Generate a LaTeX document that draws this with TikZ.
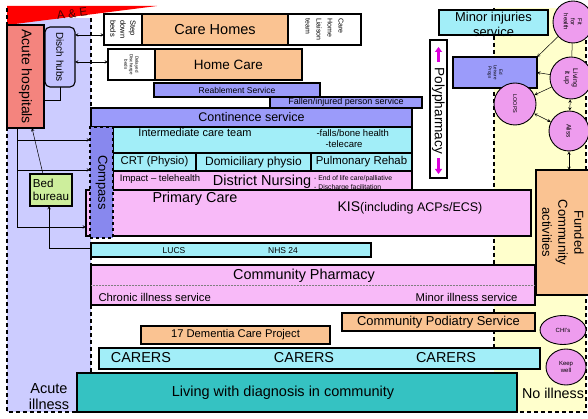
\documentclass[tikz,border=0pt]{standalone}
\usepackage{fontspec}
\setmainfont{Liberation Sans}
\usetikzlibrary{arrows.meta,shapes.geometric}
\definecolor{lav}{HTML}{CCCCFF}
\definecolor{hub}{HTML}{C2C2FF}
\definecolor{salmon}{HTML}{F4847E}
\definecolor{peach}{HTML}{FAC392}
\definecolor{blu}{HTML}{9B9BFA}
\definecolor{cyn}{HTML}{A2EEF8}
\definecolor{pnk}{HTML}{F8BAF8}
\definecolor{tealbox}{HTML}{35C2C2}
\definecolor{grn}{HTML}{CDEE9C}
\definecolor{yel}{HTML}{FFFFCC}
\definecolor{mag}{HTML}{EE9CEE}
\definecolor{magarrow}{HTML}{DD00DD}
\definecolor{cmp}{HTML}{8888EE}
\newcommand{\fs}[2]{\fontsize{#1}{#2}\selectfont}
\tikzset{
  blk/.style={draw, line width=1.1pt, anchor=north west, inner sep=0pt, outer sep=0pt},
  ball/.style={draw, line width=0.9pt, fill=mag, ellipse, inner sep=0pt},
  bord/.style={line width=1.4pt, dash pattern=on 4pt off 3pt},
  link/.style={line width=0.5pt},
}

\begin{document}
\begin{tikzpicture}[x=1pt, y=-1pt, >=stealth]
    \clip (0,0) rectangle (588,419);
    % background bands
    \fill[yel] (494,8) rectangle (586,412);
    \fill[lav] (7,18) rectangle (91,412);
    \fill[red] (7,6) -- (157,6) -- (7,25) -- cycle;
    \node[rotate=7, font=\fs{12}{14}, text=red!30!black, inner sep=0pt] (ae) at (72,13.5) {A \& E};
    \draw[bord] (7,8) -- (7,412) -- (586,412) -- (586,8);
    \draw[bord] (91,18) -- (91,412);
    \draw[bord] (494,8) -- (494,412);

    % acute side
    \node[blk, fill=salmon, minimum width=37, minimum height=103] (acute) at (7,25) {};
    \node[rotate=-90, font=\fs{14}{16}] at (acute) {Acute hospitals};
    \node[blk, fill=hub, rounded corners=5pt, minimum width=30, minimum height=60] (disch) at (45,27) {};
    \node[rotate=-90, font=\fs{10}{12}] at (disch) {Disch hubs};
    \node[blk, fill=grn, minimum width=42, minimum height=32] (bed) at (30,174) {};
    \node[font=\fs{11.6}{13}, align=left] at (bed) {Bed\\bureau};
    \node[font=\fs{14.5}{16}, align=center] (acuteill) at (49,397) {Acute\\illness};

    % beds and homes
    \node[blk, fill=white, minimum width=38, minimum height=31] (stepdown) at (104,14) {};
    \node[rotate=-90, font=\fs{7.5}{10}, align=left] at (stepdown) {Step\\down\\beds};
    \node[blk, fill=peach, minimum width=146, minimum height=31, font=\fs{14.5}{16}] (carehomes) at (142,14) {Care Homes};
    \node[blk, fill=white, minimum width=73, minimum height=31] (liaison) at (288,14) {};
    \node[rotate=-90, font=\fs{7}{11}, align=left] at (liaison) {Care\\Home\\Liaison\\team};
    \node[blk, fill=white, minimum width=47, minimum height=31] (delayed) at (108,49) {};
    \node[rotate=-90, font=\fs{4.5}{5.5}, align=center] at (delayed) {Delayed\\Discharge\\beds};
    \node[blk, fill=peach, minimum width=147, minimum height=31, font=\fs{13.5}{15}] (homecare) at (155,49) {Home Care};
    \node[blk, fill=blu, minimum width=166, minimum height=14, font=\fs{8.5}{10}] (reable) at (154,83) {Reablement Service};
    \node[blk, fill=blu, minimum width=152, minimum height=11, font=\fs{9}{10}] (fallen) at (270,97) {Fallen/injured person service};
    \node[blk, fill=blu, minimum width=321, minimum height=19, font=\fs{12.5}{14}] (continence) at (91,108) {Continence service};

    % community teams
    \node[blk, fill=pnk, minimum width=445, minimum height=46] (primary) at (86,190) {};
    \node[font=\fs{14.4}{16}] (primtxt) at (195,199) {Primary Care};
    \node[font=\fs{14}{16}, inner sep=1pt] (kis) at (410,207.5) {KIS{\fs{12.5}{14}(including ACPs/ECS)}};
    \node[blk, fill=cyn, minimum width=299, minimum height=26] (inter) at (113,127) {};
    \node[font=\fs{11}{13}] (intertxt) at (195,133) {Intermediate care team};
    \node[font=\fs{9.5}{11}, anchor=west] (falls) at (313,133) {-falls/bone health};
    \node[font=\fs{9.5}{11}, anchor=west] (tele) at (322,144) {-telecare};
    \node[blk, fill=cyn, minimum width=83, minimum height=18, font=\fs{11.3}{13}] (crt) at (113,153) {CRT (Physio)};
    \node[blk, fill=cyn, minimum width=115, minimum height=18, font=\fs{12}{14}] (domic) at (196,153) {Domiciliary physio};
    \node[blk, fill=cyn, minimum width=101, minimum height=18, font=\fs{11.4}{13}] (pulm) at (311,153) {Pulmonary Rehab};
    \node[blk, fill=pnk, minimum width=299, minimum height=19] (district) at (113,171) {};
    \node[font=\fs{9.5}{11}] (impact) at (160,179) {Impact -- telehealth};
    \node[font=\fs{14.5}{16}, inner sep=1pt] (distxt) at (262,182) {District Nursing};
    \node[font=\fs{6.8}{8}, anchor=west, inner sep=0pt] (eolA) at (314,178.5) {- End of life care/palliative};
    \node[font=\fs{6.8}{8}, anchor=west, inner sep=0pt] (eolB) at (314,187.5) {- Discharge facilitation};
    \node[blk, fill=cmp, dashed, line width=1.3pt, minimum width=23, minimum height=111] (compass) at (90,127) {};
    \node[rotate=-90, font=\fs{13}{15}] at (compass) {Compass};

    % links on the acute side
    \coordinate (rowA) at (0,35);
    \coordinate (rowB) at (0,62);
    \coordinate (spine) at (17,128);
    \coordinate (j1) at (17,140);
    \coordinate (j2) at (17,170);
    \coordinate (j3) at (17,227);
    \coordinate (bb) at (49,248);
    \coordinate (hubfoot) at (44,100);
    \draw[link,<->] (disch.east |- rowA) -- (stepdown.west |- rowA);
    \draw[link,<->] (disch.east |- rowB) -- (delayed.west |- rowB);
    \draw[link] (disch.south) |- (hubfoot);
    \draw[link] (spine) -- (j3);
    \draw[link,->] (j1) -- (j1 -| compass.west);
    \draw[link,->] (j2) -- (j2 -| compass.west);
    \draw[link,->] (j3) -- (j3 -| primary.west);
    \draw[link,->] ([xshift=-8pt]bed.north) -- ([xshift=6.5pt]acute.south);
    \draw[link,->] (compass.west |- bb) -- (bb) -- (bb |- bed.south);

    % lower bands
    \node[blk, fill=cyn, minimum width=280, minimum height=14] (lucs) at (91,243) {};
    \node[font=\fs{8.5}{10}] (lucstxt) at (174,251) {LUCS};
    \node[font=\fs{8.5}{10}] (nhs) at (283,251) {NHS 24};
    \node[blk, fill=pnk, minimum width=444, minimum height=40] (pharmacy) at (91,265) {};
    \draw[densely dotted, gray, line width=0.5pt] (pharmacy.west) -- (pharmacy.east);
    \node[font=\fs{14.4}{16}] (pharmtxt) at (304,276) {Community Pharmacy};
    \node[font=\fs{11.3}{13}, anchor=west] (chronic) at (95,297) {Chronic illness service};
    \node[font=\fs{11.3}{13}, anchor=east] (minorill) at (521,297) {Minor illness service};
    \node[blk, fill=peach, minimum width=193, minimum height=18, font=\fs{12.9}{15}] (podiatry) at (342,313) {Community Podiatry Service};
    \node[blk, fill=peach, minimum width=189, minimum height=18, font=\fs{11.2}{13}] (dementia) at (141,326) {17 Dementia Care Project};
    \node[blk, fill=cyn, minimum width=441, minimum height=21] (carers) at (99,348) {};
    \node[font=\fs{14.4}{16}] (carersA) at (141,358) {CARERS};
    \node[font=\fs{14.4}{16}] (carersB) at (304,358) {CARERS};
    \node[font=\fs{14.4}{16}] (carersC) at (446,358) {CARERS};
    \node[blk, fill=tealbox, minimum width=440, minimum height=39] (living) at (77,373) {};
    \node[font=\fs{14.5}{16}] (livtxt) at (283,393) {Living with diagnosis in community};
    \node[font=\fs{14.3}{16}] (noill) at (553,393) {No illness};

    % right side
    \node[blk, fill=cyn, minimum width=109, minimum height=25] (minor) at (439,10) {};
    \node[font=\fs{12.9}{15}, align=center] at ([yshift=-2pt]minor) {Minor injuries\\service};
    \node[blk, fill=white, minimum width=17, minimum height=138] (poly) at (430,40) {};
    \node[rotate=-90, font=\fs{13.6}{15}] at ([yshift=-2pt]poly) {Polypharmacy};
    \draw[magarrow, line width=2.6pt, -{Triangle[length=5pt,width=7pt]}] ([yshift=-22pt]poly.north) -- ([yshift=-7pt]poly.north);
    \draw[magarrow, line width=2.6pt, -{Triangle[length=5pt,width=7pt]}] ([yshift=20pt]poly.south) -- ([yshift=4pt]poly.south);
    \node[blk, fill=blu, minimum width=84, minimum height=31] (ed) at (453,57) {};
    \node[rotate=-90, font=\fs{4.5}{5.5}, align=center] at (ed) {Ed\\Leisure\\Progs};
    \node[blk, fill=peach, minimum width=56, minimum height=125] (funded) at (536,170) {};
    \node[rotate=-90, font=\fs{13}{16}, align=center] at ([xshift=-1pt]funded) {Funded\\Community\\activities};
    \node[ball, minimum width=40, minimum height=42] (fithealth) at (573,22) {};
    \node[rotate=-90, font=\fs{6}{7}, align=center] at (fithealth) {Fit\\for\\health};
    \node[ball, minimum size=42] (livit) at (571,78) {};
    \node[rotate=-90, font=\fs{7}{8}, align=center] at (livit) {Living\\it up};
    \node[ball, minimum size=42] (loops) at (515,104) {};
    \node[rotate=-90, font=\fs{5.5}{7}] at (loops) {LOOPS};
    \node[ball, minimum size=40] (aliss) at (569,131) {};
    \node[rotate=-90, font=\fs{6.5}{8}] at (aliss) {Aliss};
    \node[ball, minimum width=46, minimum height=29, font=\fs{6}{7}] (chis) at (563,330) {CHI's};
    \node[ball, minimum width=40, minimum height=36, font=\fs{6}{7}, align=center] (keep) at (566,367) {Keep\\well};
    \draw[link] (fithealth) -- (livit);
    \draw[link,->] (fithealth) -- (ed.north east);
    \draw[link,->] (livit) -- (ed.east);
    \draw[link,->] (livit) -- (loops);
    \draw[link,<->] (livit) -- (aliss);
    \draw[link,<->] (loops) -- (aliss);
    \draw[link,<->] (aliss) -- (aliss |- funded.north);
\end{tikzpicture}
\end{document}
